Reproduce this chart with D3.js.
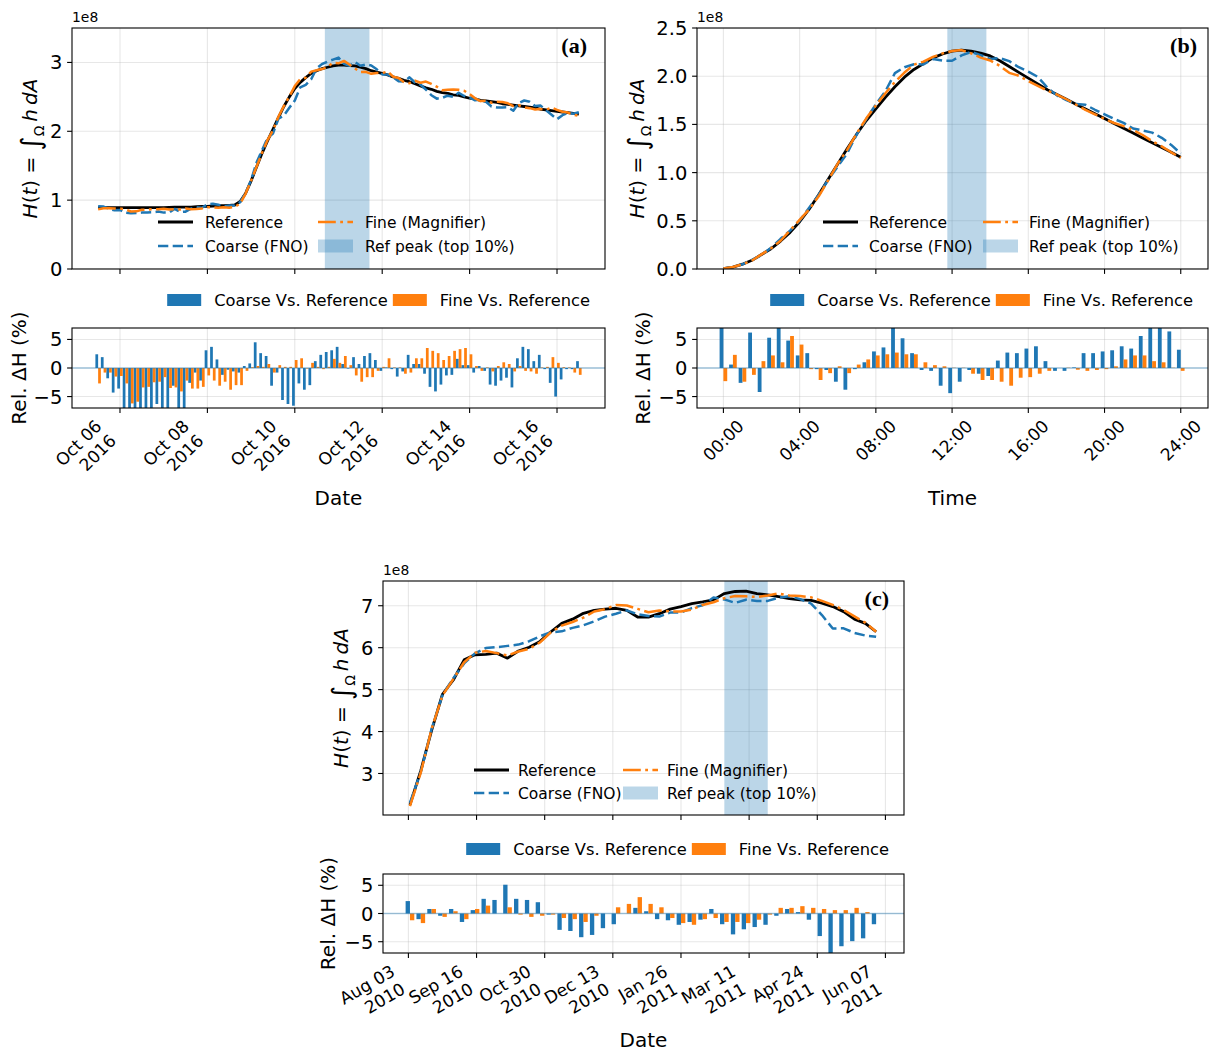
<!DOCTYPE html>
<html><head><meta charset="utf-8">
<script src="https://cdn.jsdelivr.net/npm/d3@7"></script>
<style>
body{margin:0;background:#fff;}
text{font-family:"DejaVu Sans",sans-serif;fill:#000;}
</style></head>
<body>
<svg id="fig" width="1210" height="1052" xmlns="http://www.w3.org/2000/svg"></svg>
<script>
// ================= DATA =================
// Panel (a): 3-hourly, start 2016-10-05 12:00 UTC, values in 1e8
const aStart = Date.UTC(2016, 9, 5, 12), aStepMs = 3 * 3600e3;
const aRef = [0.89,0.89,0.89,0.89,0.89,0.89,0.89,0.89,0.89,0.89,
0.89,0.89,0.89,0.895,0.90,0.90,0.90,0.90,0.905,0.91,
0.91,0.915,0.92,0.92,0.925,0.93,0.98,1.10,1.28,1.48,
1.68,1.86,2.03,2.20,2.36,2.50,2.62,2.71,2.78,2.84,
2.88,2.91,2.93,2.95,2.96,2.96,2.955,2.95,2.93,2.91,
2.88,2.86,2.84,2.82,2.79,2.77,2.74,2.72,2.69,2.66,
2.63,2.61,2.58,2.56,2.55,2.53,2.52,2.50,2.48,2.47,
2.45,2.44,2.43,2.42,2.40,2.39,2.38,2.37,2.36,2.35,
2.34,2.32,2.31,2.30,2.29,2.28,2.27,2.26,2.25];
const aCoarse = [0.911,0.907,0.874,0.852,0.858,0.819,0.810,0.814,0.819,0.821,
0.823,0.834,0.819,0.819,0.872,0.828,0.833,0.877,0.898,0.890,
0.938,0.949,0.934,0.909,0.922,0.924,0.972,1.104,1.290,1.547,
1.724,1.899,1.967,2.182,2.228,2.343,2.447,2.637,2.674,2.755,
2.915,2.977,3.012,3.041,3.070,2.981,2.952,3.006,2.951,2.971,
2.955,2.900,2.826,2.823,2.784,2.728,2.724,2.783,2.709,2.679,
2.604,2.524,2.474,2.486,2.517,2.500,2.560,2.513,2.492,2.450,
2.459,2.428,2.360,2.345,2.347,2.349,2.299,2.410,2.447,2.428,
2.368,2.373,2.305,2.240,2.176,2.234,2.265,2.255,2.277];
const aFine = [0.866,0.883,0.883,0.877,0.878,0.866,0.835,0.837,0.860,0.861,
0.868,0.869,0.876,0.864,0.869,0.863,0.880,0.868,0.872,0.880,
0.898,0.895,0.891,0.898,0.890,0.902,0.951,1.095,1.282,1.485,
1.683,1.873,2.014,2.211,2.365,2.505,2.657,2.756,2.777,2.866,
2.886,2.904,2.936,2.997,2.987,3.022,2.970,2.912,2.860,2.863,
2.834,2.846,2.846,2.868,2.793,2.773,2.713,2.698,2.736,2.705,
2.722,2.688,2.647,2.596,2.604,2.606,2.603,2.588,2.540,2.479,
2.438,2.442,2.415,2.428,2.424,2.407,2.366,2.378,2.348,2.336,
2.317,2.322,2.315,2.344,2.311,2.283,2.272,2.242,2.223];
const aCoarseErr = [2.4,1.9,-1.8,-4.3,-3.6,-8.0,-9.0,-8.5,-8.0,-7.8,
-7.5,-6.3,-8.0,-8.5,-3.1,-8.0,-7.5,-2.6,-0.8,-2.2,
3.1,3.7,1.5,-1.2,-0.3,-0.6,-0.8,0.35,0.8,4.5,
2.6,2.1,-3.1,-0.8,-5.6,-6.3,-6.6,-2.7,-3.8,-3.0,
1.2,2.3,2.8,3.1,3.7,0.7,-0.1,1.9,0.7,2.1,
2.6,1.4,-0.5,0.1,-0.2,-1.5,-0.6,2.3,0.7,0.7,
-1.0,-3.3,-4.1,-2.9,-1.3,-1.2,1.6,0.5,0.5,-0.8,
0.35,-0.5,-2.9,-3.1,-2.2,-1.7,-3.4,1.7,3.7,3.3,
1.2,2.3,-0.2,-2.6,-5.0,-2.0,-0.2,-0.2,1.2];
const aFineErr = [-2.7,-0.8,-0.8,-1.5,-1.4,-2.7,-6.2,-5.9,-3.4,-3.3,
-2.5,-2.4,-1.6,-3.5,-3.4,-4.1,-2.2,-3.6,-3.6,-3.3,
-1.3,-2.2,-3.1,-2.4,-3.8,-3.0,-3.0,-0.5,0.15,0.35,
0.2,0.7,-0.8,0.5,0.2,0.2,1.4,1.7,-0.1,0.9,
0.2,-0.2,0.2,1.6,0.9,2.1,0.5,-1.3,-2.4,-1.6,
-1.6,-0.5,0.2,1.7,0.1,0.1,-1.0,-0.8,1.7,1.7,
3.5,3.0,2.6,1.4,2.1,3.0,3.3,3.5,2.4,0.35,
-0.5,0.1,-0.6,0.35,1.0,0.7,-0.6,0.35,-0.5,-0.6,
-1.0,0.1,0.2,1.9,0.9,0.15,0.1,-0.8,-1.2];
const aTickDates = [Date.UTC(2016,9,6),Date.UTC(2016,9,8),Date.UTC(2016,9,10),Date.UTC(2016,9,12),Date.UTC(2016,9,14),Date.UTC(2016,9,16)];
const aTickLabels = [["Oct 06","2016"],["Oct 08","2016"],["Oct 10","2016"],["Oct 12","2016"],["Oct 14","2016"],["Oct 16","2016"]];
const aYTicks = [0,1,2,3];
const aPeak = [Date.UTC(2016,9,10,16,30), Date.UTC(2016,9,11,17,0)];

// Panel (b): half-hourly, 0..24 h, values in 1e8
const bStartH = 0, bStepH = 0.5;
const bRef = [0.005,0.02,0.05,0.09,0.15,0.21,0.29,0.38,0.49,0.62,
0.77,0.93,1.09,1.25,1.40,1.54,1.66,1.78,1.89,1.99,
2.07,2.13,2.19,2.23,2.26,2.27,2.26,2.24,2.21,2.16,
2.10,2.04,1.98,1.92,1.86,1.81,1.76,1.71,1.66,1.61,
1.56,1.51,1.46,1.41,1.36,1.31,1.26,1.21,1.16];
const bCoarse = [0.0054,0.0201,0.0487,0.0956,0.1437,0.2211,0.3132,0.3982,0.5008,0.6361,
0.7685,0.9267,1.0638,1.2025,1.3972,1.5554,1.7081,1.8441,2.0318,2.0935,
2.1238,2.1225,2.1791,2.1609,2.1606,2.2155,2.2521,2.2176,2.1791,2.1881,
2.1567,2.0930,2.0473,1.9930,1.8823,1.8010,1.7512,1.7117,1.7032,1.6519,
1.6052,1.5568,1.5155,1.4579,1.4362,1.4148,1.3608,1.2874,1.1971];
const bFine = [0.0049,0.0205,0.0488,0.0889,0.1518,0.2146,0.2929,0.4013,0.5101,0.6188,
0.7538,0.9216,1.0933,1.2388,1.4084,1.5631,1.6965,1.8227,1.9410,2.0378,
2.1197,2.1513,2.2010,2.2367,2.2611,2.2711,2.2374,2.1930,2.1636,2.1082,
2.0349,2.0053,1.9483,1.9008,1.8507,1.8100,1.7609,1.7049,1.6517,1.6044,
1.5569,1.5145,1.4819,1.4410,1.3899,1.3257,1.2726,1.2106,1.1542];
const bCoarseErr = [8.5,0.6,-2.6,6.2,-4.2,5.3,8.0,4.8,2.2,2.6,
-0.2,-0.35,-2.4,-3.8,-0.2,1.0,2.9,3.6,7.5,5.2,
2.6,-0.35,-0.5,-3.1,-4.4,-2.4,-0.35,-1.0,-1.4,1.3,
2.7,2.6,3.4,3.8,1.2,-0.5,-0.5,0.1,2.6,2.6,
2.9,3.1,3.8,3.4,5.6,8.0,8.0,6.4,3.2];
const bFineErr = [-2.3,2.3,-2.4,-1.2,1.2,2.2,1.0,5.6,4.1,-0.2,
-2.1,-0.9,0.3,-0.9,0.6,1.5,2.2,2.4,2.7,2.4,
2.4,1.0,0.5,0.3,0.05,0.05,-1.0,-2.1,-2.1,-2.4,
-3.1,-1.7,-1.6,-1.0,-0.5,0.0,0.05,-0.3,-0.5,-0.35,
-0.2,0.3,1.5,2.2,2.2,1.2,1.0,0.05,-0.5];
const bTickHours = [0,4,8,12,16,20,24];
const bTickLabels = [["00:00"],["04:00"],["08:00"],["12:00"],["16:00"],["20:00"],["24:00"]];
const bYTicks = [0,0.5,1.0,1.5,2.0,2.5];
const bPeak = [11.75, 13.8];

// Panel (c): weekly, start 2010-08-04, values in 1e8
const cStart = Date.UTC(2010, 7, 4), cStepMs = 7 * 864e5;
const cRef = [2.25,3.07,4.03,4.89,5.23,5.71,5.83,5.84,5.87,5.75,
5.92,6.01,6.15,6.38,6.58,6.68,6.82,6.89,6.92,6.94,
6.89,6.73,6.73,6.81,6.92,6.98,7.05,7.09,7.14,7.29,
7.34,7.35,7.29,7.26,7.22,7.17,7.14,7.13,7.06,6.98,
6.86,6.68,6.58,6.38];
const cCoarse = [2.300,3.039,4.062,4.870,5.272,5.624,5.865,5.992,6.011,6.043,
6.074,6.154,6.273,6.367,6.389,6.473,6.534,6.628,6.740,6.808,
6.890,6.797,6.757,6.742,6.837,6.840,6.944,7.012,7.197,7.151,
7.068,7.144,7.115,7.115,7.191,7.227,7.158,7.052,6.778,6.457,
6.462,6.353,6.290,6.259];
const cFine = [2.223,3.018,4.062,4.861,5.251,5.653,5.877,5.922,5.870,5.813,
5.908,5.974,6.125,6.367,6.527,6.613,6.718,6.862,6.920,7.016,
7.007,6.925,6.844,6.885,6.865,6.861,6.909,7.019,7.083,7.181,
7.230,7.225,7.210,7.245,7.292,7.242,7.233,7.201,7.116,7.022,
6.901,6.747,6.596,6.380];
const cCoarseErr = [2.2,-1.0,0.8,-0.4,0.8,-1.5,0.6,2.6,2.4,5.1,
2.6,2.4,2.0,-0.2,-2.9,-3.1,-4.2,-3.8,-2.6,-1.9,
0.0,1.0,0.4,-1.0,-1.2,-2.0,-1.5,-1.1,0.8,-1.9,
-3.7,-2.8,-2.4,-2.0,-0.4,0.8,0.25,-1.1,-4.0,-7.5,
-5.8,-4.9,-4.4,-1.9];
const cFineErr = [-1.2,-1.7,0.8,-0.6,0.4,-1.0,0.8,1.4,0.0,1.1,
-0.2,-0.6,-0.4,-0.2,-0.8,-1.0,-1.5,-0.4,0.0,1.1,
1.7,2.9,1.7,1.1,-0.8,-1.7,-2.0,-1.0,-0.8,-1.5,
-1.5,-1.7,-1.1,-0.2,1.0,1.0,1.3,1.0,0.8,0.6,
0.6,1.0,0.25,0.0];
const cTickDates = [Date.UTC(2010,7,3),Date.UTC(2010,8,16),Date.UTC(2010,9,30),Date.UTC(2010,11,13),Date.UTC(2011,0,26),Date.UTC(2011,2,11),Date.UTC(2011,3,24),Date.UTC(2011,5,7)];
const cTickLabels = [["Aug 03","2010"],["Sep 16","2010"],["Oct 30","2010"],["Dec 13","2010"],["Jan 26","2011"],["Mar 11","2011"],["Apr 24","2011"],["Jun 07","2011"]];
const cYTicks = [3,4,5,6,7];
const cPeak = [Date.UTC(2011,1,23), Date.UTC(2011,2,23)];

const barYTicks = [-5,0,5];
const barYTickLabels = ["\u22125","0","5"];
const legendLabels = ["Reference","Coarse (FNO)","Fine (Magnifier)","Ref peak (top 10%)"];
const barLegendLabels = ["Coarse Vs. Reference","Fine Vs. Reference"];
const panelLetters = ["(a)","(b)","(c)"];
const xAxisLabels = ["Date","Time","Date"];

// ================= DRAWING =================
const svg = d3.select("#fig");
const defs = svg.append("defs");
const C0 = "#1f77b4", C1 = "#ff7f0e";
const DASH = "10.3,4.4", DASHDOT = "17.8,4.4,2.8,4.4";
const TICKFS = 19.5, XTICKFS = 17, LABFS = 20, LEGFS = 15.5, BLEGFS = 16.3;

function drawPanel(P) {
  const x = d3.scaleLinear().domain(P.xDomain).range([P.left, P.right]);
  const yT = d3.scaleLinear().domain(P.yDomain).range([P.tBot, P.tTop]);
  const yB = d3.scaleLinear().domain([-7, 7]).range([P.bBot, P.bTop]);
  const g = svg.append("g");
  const mkClip = (id, y0, y1) => defs.append("clipPath").attr("id", id).append("rect")
    .attr("x", P.left).attr("y", y0).attr("width", P.right - P.left).attr("height", y1 - y0);
  mkClip(P.id + "t", P.tTop, P.tBot);
  mkClip(P.id + "b", P.bTop, P.bBot);
  const gt = g.append("g").attr("clip-path", `url(#${P.id}t)`);
  const gb = g.append("g").attr("clip-path", `url(#${P.id}b)`);

  function grid(sel, ys, ysc, y0, y1) {
    sel.selectAll(null).data(P.xTicks).enter().append("line")
      .attr("x1", d => x(d)).attr("x2", d => x(d)).attr("y1", y0).attr("y2", y1)
      .attr("stroke", "#b0b0b0").attr("stroke-opacity", 0.3).attr("stroke-width", 1.1);
    sel.selectAll(null).data(ys).enter().append("line")
      .attr("x1", P.left).attr("x2", P.right).attr("y1", d => ysc(d)).attr("y2", d => ysc(d))
      .attr("stroke", "#b0b0b0").attr("stroke-opacity", 0.3).attr("stroke-width", 1.1);
  }
  grid(gt, P.yTicks, yT, P.tTop, P.tBot);
  grid(gb, barYTicks, yB, P.bTop, P.bBot);

  // peak band
  gt.append("rect").attr("x", x(P.peak[0])).attr("width", x(P.peak[1]) - x(P.peak[0]))
    .attr("y", P.tTop).attr("height", P.tBot - P.tTop).attr("fill", C0).attr("fill-opacity", 0.3);

  // lines
  const ln = d3.line().x((d, i) => x(P.times[i])).y(d => yT(d));
  gt.append("path").attr("d", ln(P.ref)).attr("fill", "none").attr("stroke", "#000")
    .attr("stroke-width", 2.8).attr("stroke-linejoin", "round");
  gt.append("path").attr("d", ln(P.coarse)).attr("fill", "none").attr("stroke", C0)
    .attr("stroke-width", 2.5).attr("stroke-dasharray", DASH).attr("stroke-linejoin", "round");
  gt.append("path").attr("d", ln(P.fine)).attr("fill", "none").attr("stroke", C1)
    .attr("stroke-width", 2.5).attr("stroke-dasharray", DASHDOT).attr("stroke-linejoin", "round");

  // bars
  const bw = P.barW;
  gb.selectAll(null).data(P.cErr).enter().append("rect")
    .attr("x", (d, i) => x(P.times[i] - bw)).attr("width", (d, i) => x(P.times[i]) - x(P.times[i] - bw))
    .attr("y", d => yB(Math.max(0, d))).attr("height", d => Math.abs(yB(d) - yB(0))).attr("fill", C0);
  gb.selectAll(null).data(P.fErr).enter().append("rect")
    .attr("x", (d, i) => x(P.times[i])).attr("width", (d, i) => x(P.times[i] + bw) - x(P.times[i]))
    .attr("y", d => yB(Math.max(0, d))).attr("height", d => Math.abs(yB(d) - yB(0))).attr("fill", C1);
  gb.append("line").attr("x1", P.left).attr("x2", P.right).attr("y1", yB(0)).attr("y2", yB(0))
    .attr("stroke", C0).attr("stroke-opacity", 0.4).attr("stroke-width", 1.6);

  // frames
  [[P.tTop, P.tBot], [P.bTop, P.bBot]].forEach(([a, b]) => {
    g.append("rect").attr("x", P.left).attr("y", a).attr("width", P.right - P.left).attr("height", b - a)
      .attr("fill", "none").attr("stroke", "#000").attr("stroke-width", 1.1);
  });

  // ticks
  [P.tBot, P.bBot].forEach(yy => {
    g.selectAll(null).data(P.xTicks).enter().append("line")
      .attr("x1", d => x(d)).attr("x2", d => x(d)).attr("y1", yy).attr("y2", yy + 4.9)
      .attr("stroke", "#000").attr("stroke-width", 1.1);
  });
  g.selectAll(null).data(P.yTicks).enter().append("line")
    .attr("x1", P.left - 4.9).attr("x2", P.left).attr("y1", d => yT(d)).attr("y2", d => yT(d))
    .attr("stroke", "#000").attr("stroke-width", 1.1);
  g.selectAll(null).data(barYTicks).enter().append("line")
    .attr("x1", P.left - 4.9).attr("x2", P.left).attr("y1", d => yB(d)).attr("y2", d => yB(d))
    .attr("stroke", "#000").attr("stroke-width", 1.1);

  // y tick labels
  g.selectAll(null).data(P.yTicks).enter().append("text")
    .attr("x", P.left - 9.7).attr("y", d => yT(d)).attr("dy", "0.36em").attr("text-anchor", "end")
    .attr("font-size", TICKFS).text(P.yFmt);
  g.selectAll(null).data(barYTicks).enter().append("text")
    .attr("x", P.left - 9.7).attr("y", d => yB(d)).attr("dy", "0.36em").attr("text-anchor", "end")
    .attr("font-size", TICKFS).text((d, i) => barYTickLabels[i]);

  // offset text
  g.append("text").attr("x", P.left).attr("y", P.tTop - 6).attr("font-size", 13.9).text("1e8");

  // rotated x tick labels
  P.xTicks.forEach((tv, k) => {
    const lg = g.append("g");
    const t = lg.append("text").attr("font-size", XTICKFS).attr("text-anchor", "end")
      .attr("transform", `rotate(${-P.rot})`);
    P.xTickLabels[k].forEach((s, i) => t.append("tspan").attr("x", 0).attr("dy", i === 0 ? 0 : XTICKFS * 1.2).text(s));
    const bb = lg.node().getBBox();
    const tx = P.ha === "center" ? x(tv) - (bb.x + bb.width / 2) : x(tv) - (bb.x + bb.width);
    lg.attr("transform", `translate(${tx},${P.bBot + 8 - bb.y})`);
  });

  // x axis label
  g.append("text").attr("x", (P.left + P.right) / 2).attr("y", P.xLabelY).attr("text-anchor", "middle")
    .attr("font-size", LABFS).text(P.xLabel);

  // y labels
  const yc = (P.tTop + P.tBot) / 2;
  const ml = g.append("text").attr("transform", `translate(${P.hLabX},${yc}) rotate(-90)`)
    .attr("text-anchor", "middle").attr("font-size", LABFS);
  ml.append("tspan").attr("font-style", "italic").text("H");
  ml.append("tspan").text("(");
  ml.append("tspan").attr("font-style", "italic").text("t");
  ml.append("tspan").text(") = ");
  ml.append("tspan").attr("font-size", 27).attr("dy", 3).text("\u222B");
  ml.append("tspan").attr("font-size", 14).attr("dy", 4).text("\u03A9");
  ml.append("tspan").attr("font-style", "italic").attr("dy", -7).text("\u2009h\u2009dA");
  g.append("text").attr("transform", `translate(${P.barLabX},${(P.bTop + P.bBot) / 2}) rotate(-90)`)
    .attr("text-anchor", "middle").attr("font-size", LABFS).text("Rel. \u0394H (%)");

  // panel letter
  g.append("text").attr("x", P.letterX).attr("y", P.tTop + 25).attr("text-anchor", "end")
    .style("font-family", "'Liberation Serif','Times New Roman',serif").attr("font-weight", "bold")
    .attr("font-size", 22).text(P.letter);

  // top legend
  const L = P.leg;
  const items = [
    {col: 0, row: 0, kind: "line", stroke: "#000", w: 2.8, dash: null},
    {col: 0, row: 1, kind: "line", stroke: C0, w: 2.5, dash: DASH},
    {col: 1, row: 0, kind: "line", stroke: C1, w: 2.5, dash: DASHDOT},
    {col: 1, row: 1, kind: "patch"}];
  items.forEach((it, i) => {
    const hx = L.x + it.col * L.col2, hy = it.row === 0 ? L.y1 : L.y2;
    if (it.kind === "line") {
      const l = g.append("line").attr("x1", hx).attr("x2", hx + 35).attr("y1", hy).attr("y2", hy)
        .attr("stroke", it.stroke).attr("stroke-width", it.w);
      if (it.dash) l.attr("stroke-dasharray", it.dash);
    } else {
      g.append("rect").attr("x", hx).attr("y", hy - 6.5).attr("width", 35).attr("height", 13)
        .attr("fill", C0).attr("fill-opacity", 0.3);
    }
    g.append("text").attr("x", hx + L.tOff).attr("y", hy).attr("dy", "0.36em").attr("font-size", LEGFS).text(legendLabels[i]);
  });

  // bar legend (right aligned above bar axes)
  const bl = g.append("g");
  const widths = barLegendLabels.map(s => {
    const t = bl.append("text").attr("font-size", BLEGFS).text(s);
    const w = t.node().getComputedTextLength(); t.remove(); return w;
  });
  const pw = 34, gap = 13, colGap = 5;
  let bx = P.right - 15 - (2 * (pw + gap) + d3.sum(widths) + colGap);
  [C0, C1].forEach((c, i) => {
    bl.append("rect").attr("x", bx).attr("y", P.barLegY - 6).attr("width", pw).attr("height", 12).attr("fill", c);
    bl.append("text").attr("x", bx + pw + gap).attr("y", P.barLegY).attr("dy", "0.36em").attr("font-size", BLEGFS).text(barLegendLabels[i]);
    bx += pw + gap + widths[i] + colGap;
  });
}

const DAY = 864e5;
drawPanel({
  id: "pa", left: 72, right: 605, tTop: 28, tBot: 269, bTop: 328, bBot: 408,
  xDomain: [aTickDates[0] - 1.098 * DAY, aTickDates[5] + 1.098 * DAY],
  yDomain: [0, 3.5], yTicks: aYTicks, yFmt: d => String(d),
  times: aRef.map((d, i) => aStart + i * aStepMs),
  ref: aRef, coarse: aCoarse, fine: aFine, cErr: aCoarseErr, fErr: aFineErr,
  barW: 0.5 * aStepMs, peak: aPeak,
  xTicks: aTickDates, xTickLabels: aTickLabels, rot: 45, ha: "right",
  xLabel: xAxisLabels[0], xLabelY: 505, hLabX: 37, barLabX: 26,
  letter: panelLetters[0], letterX: 587,
  leg: {x: 158, col2: 160, tOff: 47, y1: 222, y2: 246}, barLegY: 300
});
drawPanel({
  id: "pb", left: 697, right: 1208, tTop: 28, tBot: 269, bTop: 328, bBot: 408,
  xDomain: [-1.386, 25.43],
  yDomain: [0, 2.5], yTicks: bYTicks, yFmt: d3.format(".1f"),
  times: bRef.map((d, i) => bStartH + i * bStepH),
  ref: bRef, coarse: bCoarse, fine: bFine, cErr: bCoarseErr, fErr: bFineErr,
  barW: 0.4 * bStepH, peak: bPeak,
  xTicks: bTickHours, xTickLabels: bTickLabels, rot: 45, ha: "center",
  xLabel: xAxisLabels[1], xLabelY: 505, hLabX: 644, barLabX: 650,
  letter: panelLetters[1], letterX: 1197,
  leg: {x: 823, col2: 160, tOff: 46, y1: 222, y2: 246}, barLegY: 300
});
drawPanel({
  id: "pc", left: 383, right: 904, tTop: 581, tBot: 815, bTop: 874, bBot: 953,
  xDomain: [cTickDates[0] - 16.4 * DAY, cTickDates[7] + 12 * DAY],
  yDomain: [2.01, 7.59], yTicks: cYTicks, yFmt: d => String(d),
  times: cRef.map((d, i) => cStart + i * cStepMs),
  ref: cRef, coarse: cCoarse, fine: cFine, cErr: cCoarseErr, fErr: cFineErr,
  barW: 0.4 * cStepMs, peak: cPeak,
  xTicks: cTickDates, xTickLabels: cTickLabels, rot: 30, ha: "right",
  xLabel: xAxisLabels[2], xLabelY: 1047, hLabX: 348, barLabX: 335,
  letter: panelLetters[2], letterX: 889,
  leg: {x: 474, col2: 149, tOff: 44, y1: 770, y2: 793}, barLegY: 849
});
</script>
</body></html>
